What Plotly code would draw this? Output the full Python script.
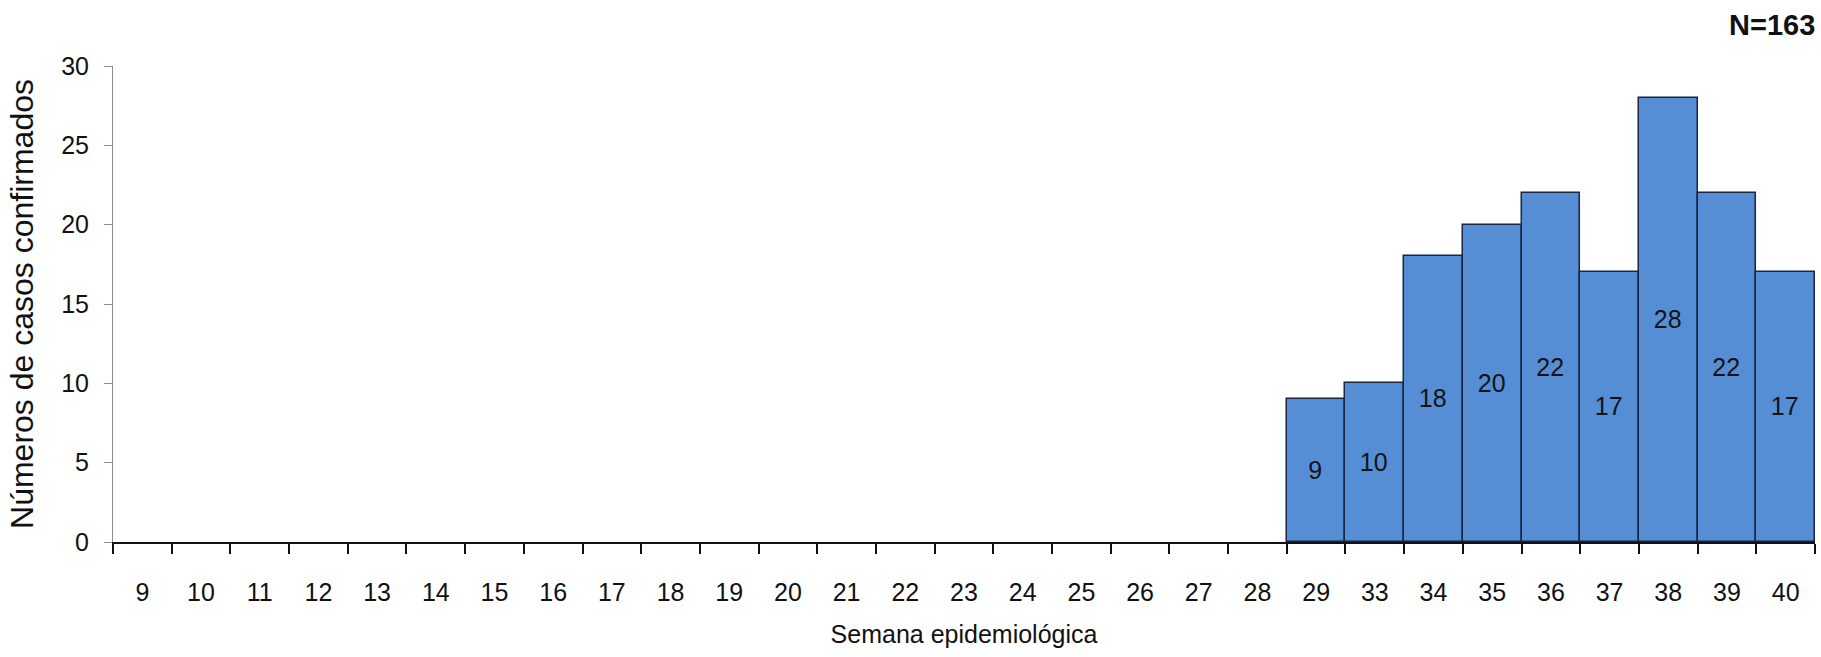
import plotly.graph_objects as go

# --- data ---
semanas = ["9", "10", "11", "12", "13", "14", "15", "16", "17", "18", "19", "20",
           "21", "22", "23", "24", "25", "26", "27", "28", "29", "33", "34", "35",
           "36", "37", "38", "39", "40"]
casos = [0, 0, 0, 0, 0, 0, 0, 0, 0, 0, 0, 0,
         0, 0, 0, 0, 0, 0, 0, 0, 9, 10, 18, 20,
         22, 17, 28, 22, 17]
total_label = "N=163"
y_title = "Números de casos confirmados"
x_title = "Semana epidemiológica"

# --- style ---
FONT = "Liberation Sans, Arial, sans-serif"
BAR_FILL = "#558ED5"
BAR_LINE = "#1b2540"

fig = go.Figure()
fig.add_trace(go.Bar(
    x=semanas, y=casos,
    text=[str(v) if v > 0 else "" for v in casos],
    textposition="inside", insidetextanchor="middle", textangle=0,
    textfont=dict(family=FONT, size=25, color="#141414"),
    marker=dict(color=BAR_FILL,
                line=dict(color=BAR_LINE, width=[1.5 if v > 0 else 0 for v in casos])),
    hoverinfo="x+y",
    showlegend=False,
))

fig.update_layout(
    width=1821, height=657,
    margin=dict(l=113, r=6, t=66, b=115),
    paper_bgcolor="white", plot_bgcolor="white",
    bargap=0,
    uniformtext=dict(minsize=25, mode="show"),
    font=dict(family=FONT, color="#111111"),
    xaxis=dict(
        type="category",
        categoryorder="array", categoryarray=semanas,
        range=[-0.5, len(semanas) - 0.5],
        tickson="boundaries",
        ticks="outside", ticklen=10, tickcolor="#111111", tickwidth=1.5,
        showline=True, linecolor="#111111", linewidth=1.5,
        showgrid=False, zeroline=False,
        tickfont=dict(family=FONT, size=25, color="#111111"),
        ticklabelstandoff=27,
        title=dict(text=x_title, font=dict(family=FONT, size=25, color="#111111"),
                   standoff=21),
        automargin=False,
    ),
    yaxis=dict(
        range=[0, 30], dtick=5, tick0=0,
        ticks="outside", ticklen=8, tickcolor="#8c8c8c", tickwidth=1,
        showline=True, linecolor="#8c8c8c", linewidth=1,
        showgrid=False, zeroline=False,
        tickfont=dict(family=FONT, size=25, color="#111111"),
        ticklabelstandoff=10,
        title=dict(text=y_title, font=dict(family=FONT, size=32, color="#111111"),
                   standoff=17),
        automargin=False,
    ),
    annotations=[dict(
        text="<b>" + total_label + "</b>",
        xref="paper", yref="paper", x=1, y=1.086,
        xanchor="right", yanchor="middle", xshift=2,
        showarrow=False,
        font=dict(family=FONT, size=29, color="#111111"),
    )],
)

fig.write_html(
    "out.html",
    config={"displayModeBar": False},
    post_script="document.body.style.margin='0';document.body.style.overflow='hidden';",
)
